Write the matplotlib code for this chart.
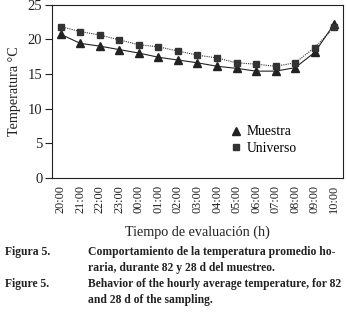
import matplotlib.pyplot as plt
import numpy as np

# hourly data
horas = ["20:00", "21:00", "22:00", "23:00", "00:00", "01:00", "02:00", "03:00",
         "04:00", "05:00", "06:00", "07:00", "08:00", "09:00", "10:00"]
muestra = [20.7, 19.4, 19.0, 18.5, 18.0, 17.4, 17.0, 16.6, 16.1, 15.8, 15.4, 15.4, 15.9, 18.1, 22.2]
universo = [21.8, 21.1, 20.6, 19.9, 19.2, 18.9, 18.3, 17.7, 17.3, 16.6, 16.4, 16.1, 16.6, 18.8, 21.7]

plt.rcParams['font.family'] = ['Liberation Serif', 'DejaVu Serif']

fig = plt.figure(figsize=(3.47, 3.18), dpi=100)
ax = fig.add_axes([52 / 347, 1 - 178 / 318, (343 - 52) / 347, (178 - 4.5) / 318])

x = np.arange(len(horas))
ax.plot(x, muestra, color='#222222', lw=0.8, marker='^', ms=5.5, label='Muestra')
ax.plot(x, universo, color='#333333', lw=0.8, ls=(0, (1, 1)), marker='s', ms=5, label='Universo')

ax.set_xlim(-0.45, len(horas) - 0.55)
ax.set_ylim(0, 25)
ax.set_yticks([0, 5, 10, 15, 20, 25])
ax.set_xticks(x)
ax.set_xticklabels(horas, rotation=90, fontsize=8.8, color='#222222')
ax.tick_params(axis='x', length=0, pad=5)
ax.tick_params(axis='y', labelsize=10.5, length=5, width=0.8, colors='#222222', pad=2)
for s in ax.spines.values():
    s.set_linewidth(0.8)
    s.set_color('#222222')

ax.set_ylabel('Temperatura °C', fontsize=10.2, color='#222222', labelpad=5)
ax.set_xlabel('Tiempo de evaluación (h)', fontsize=10.2, color='#222222', labelpad=9)

ax.legend(loc='upper left', bbox_to_anchor=(0.6, 0.335), frameon=False, fontsize=9.8,
          handlelength=0.6, handletextpad=0.5, labelspacing=0.25, borderaxespad=0)
for ln in ax.get_legend().get_lines():
    ln.set_linestyle('none')

cap = dict(fontsize=8.4, fontweight='bold', color='#222222', va='baseline')
fig.text(5 / 347, 1 - 255 / 318, 'Figura 5.', **cap)
fig.text(88 / 347, 1 - 255 / 318, 'Comportamiento de la temperatura promedio ho-', **cap)
fig.text(88 / 347, 1 - 271 / 318, 'raria, durante 82 y 28 d del muestreo.', **cap)
fig.text(5 / 347, 1 - 287 / 318, 'Figure 5.', **cap)
fig.text(88 / 347, 1 - 287 / 318, 'Behavior of the hourly average temperature, for 82', **cap)
fig.text(88 / 347, 1 - 303 / 318, 'and 28 d of the sampling.', **cap)

fig.savefig('out.png', dpi=100)
